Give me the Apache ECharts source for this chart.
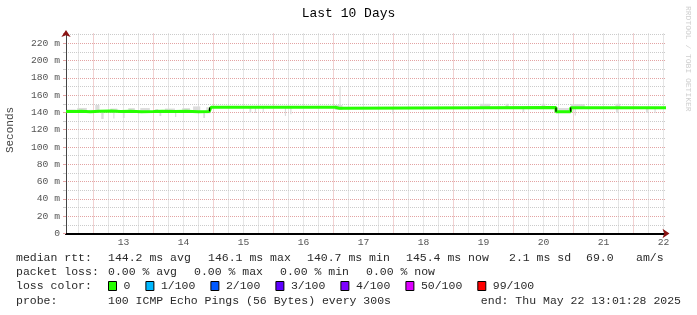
<!DOCTYPE html>
<html><head><meta charset="utf-8">
<script src="https://cdn.jsdelivr.net/npm/echarts@6.0.0/dist/echarts.min.js"></script>
<style>html,body{margin:0;padding:0;background:#fff}#c{width:697px;height:315px}</style>
</head><body><div id="c"></div>
<script>
// ---- data (x = day of month, fractional; y = milliseconds) ----
const X_START = 12.5424;           // Mon May 12 13:01
const X_END = 22.5424;             // Thu May 22 13:01
const Y_MAX = 231.3;
const dayLabels = ['13','14','15','16','17','18','19','20','21','22'];
const yTickLabels = ['0','20 m','40 m','60 m','80 m','100 m','120 m','140 m','160 m','180 m','200 m','220 m'];

const medianTime = [12.5424,12.68,12.80,12.95,13.10,13.30,13.45,13.62,13.80,14.00,14.15,14.35,14.55,14.75,14.93,14.96,17.03,17.10,20.709,20.954,22.5424];
const medianRtt  = [141.0, 141.4,140.9,141.3,141.8,141.0,141.3,140.9,141.2,141.5,141.0,141.3,140.9,141.1,141.6,146.0,144.9,145.7,140.8, 145.4, 145.4];

const jumpTime = [14.935, 20.709, 20.954];
const jumpFrom = [141.3, 145.8, 140.8];
const jumpTo   = [145.6, 140.8, 145.6];

const smokeStart = [12.56,12.73,12.93,13.03,13.13,13.28,13.33,13.49,13.58,13.78,14.03,14.10,14.19,14.36,14.48,14.66,14.83,14.88,15.60,15.69,15.82,16.19,16.28,17.02,17.10,17.98,19.44,19.87,20.15,20.47,20.71,20.96,21.02,21.70,21.71,22.21,22.35];
const smokeEnd   = [12.70,12.89,12.99,13.10,13.17,13.40,13.35,13.52,13.69,13.94,14.08,14.13,14.36,14.38,14.61,14.78,14.86,14.95,15.63,15.71,15.84,16.21,16.30,17.15,17.12,18.00,19.61,19.92,20.18,20.53,20.95,21.19,21.04,21.78,21.74,22.24,22.37];
const smokeLow   = [139.5,139.8,140.0,139.5,132.4,139.8,133.0,133.6,139.6,139.8,140.0,135.9,139.7,134.7,139.8,139.5,133.6,139.0,139.4,139.4,140.6,135.9,138.0,142.9,148.0,138.2,144.5,144.5,140.6,144.5,140.0,144.5,136.4,144.5,139.4,139.4,139.4];
const smokeHigh  = [143.5,145.2,143.0,148.6,141.0,144.5,141.0,141.0,145.0,145.1,144.0,141.0,144.5,141.0,145.0,147.0,141.0,146.0,145.5,145.5,145.5,145.5,145.5,148.6,169.5,145.5,150.0,150.0,145.6,150.0,145.1,149.8,145.5,150.0,145.5,145.5,145.5];

const rttLabel = 'median rtt:';
const rttStats = ['144.2 ms avg','146.1 ms max','140.7 ms min','145.4 ms now','2.1 ms sd','69.0','am/s'];
const lossLabel = 'packet loss:';
const lossStats = ['0.00 % avg','0.00 % max','0.00 % min','0.00 % now'];
const colorLabel = 'loss color:';
const lossNames = ['0','1/100','2/100','3/100','4/100','50/100','99/100'];
const lossColors = ['#26ff00','#00b8ff','#0059ff','#5e00ff','#7e00ff','#dd00ff','#ff0000'];
const probeLabel = 'probe:';
const probeText = '100 ICMP Echo Pings (56 Bytes) every 300s';
const endText = 'end: Thu May 22 13:01:28 2025';
const titleText = 'Last 10 Days';
const yName = 'Seconds';
const watermark = 'RRDTOOL / TOBI OETIKER';

// ---- layout (style only) ----
const mono = '"Liberation Mono", "DejaVu Sans Mono", monospace';
const legendFont = '11.5px ' + mono;
const charW = 6.9;
const rowY = [258, 272, 286, 300.5];
const rttX = [108, 208, 307, 406, 509, 586, 636];
const lossX = [108, 194, 280, 366];

const medianData = medianTime.map((t, i) => [t, medianRtt[i]]);
const jumpData = [];
jumpTime.forEach((t, i) => { jumpData.push([t, jumpFrom[i]], [t, jumpTo[i]], [t, null]); });
const smokeData = smokeStart.map((s, i) => [s, smokeEnd[i], smokeLow[i], smokeHigh[i]]);

const graphics = [];
function txt(text, x, y, opts) {
  graphics.push(Object.assign({ type: 'text', silent: true, x: x, y: y,
    style: Object.assign({ text: text, font: legendFont, fill: '#2a2a2a', textAlign: 'left', textVerticalAlign: 'middle', align: 'left', verticalAlign: 'middle' }, opts && opts.style || {}) },
    opts && opts.el || {}));
}
txt(titleText, 348.5, 14, { style: { font: '13px ' + mono, fill: '#000', textAlign: 'center', align: 'center' } });
txt(yName, 10, 130, { style: { font: '11px ' + mono, fill: '#444', textAlign: 'center', align: 'center' }, el: { rotation: Math.PI / 2 } });
txt(watermark, 688, 6, { style: { font: '8px ' + mono, fill: '#cfcfcf' }, el: { rotation: -Math.PI / 2 } });
txt(rttLabel, 16, rowY[0]);
rttStats.forEach((s, i) => txt(s, rttX[i], rowY[0]));
txt(lossLabel, 16, rowY[1]);
lossStats.forEach((s, i) => txt(s, lossX[i], rowY[1]));
txt(colorLabel, 16, rowY[2]);
let bx = 108;
lossNames.forEach((n, i) => {
  graphics.push({ type: 'rect', silent: true, shape: { x: bx + 0.5, y: rowY[2] - 4.5, width: 8, height: 9 },
    style: { fill: lossColors[i], stroke: '#000', lineWidth: 1 } });
  txt(n, bx + 15.5, rowY[2]);
  bx = bx + 15.5 + n.length * charW + 15;
});
txt(probeLabel, 16, rowY[3]);
txt(probeText, 108, rowY[3]);
txt(endText, 681, rowY[3], { style: { textAlign: 'right', align: 'right' } });

const minorGrid = { color: '#cbcbcb', type: [1, 1], width: 1 };
const majorGrid = { color: '#e3a3a3', type: [1, 1], width: 1 };
const arrowColor = '#8b1414';

const chart = echarts.init(document.getElementById('c'), null, { renderer: 'canvas' });
chart.setOption({
  animation: false,
  backgroundColor: '#ffffff',
  grid: { left: 66, right: 31, top: 33.5, bottom: 81.5, containLabel: false, outerBoundsMode: 'none' },
  xAxis: [
    { // arrow only
      type: 'value', min: 0, max: 1, position: 'bottom',
      axisLine: { show: true, onZero: false, symbol: ['none', 'arrow'], symbolSize: [7, 7], symbolOffset: [0, 3.5], lineStyle: { color: arrowColor, width: 2 } },
      axisTick: { show: false }, axisLabel: { show: false }, splitLine: { show: false }
    },
    { // data axis, grid at midnight + every 6 h
      type: 'value', min: X_START, max: X_END, minInterval: 1, maxInterval: 1, position: 'bottom',
      axisLine: { show: true, onZero: false, lineStyle: { color: '#000', width: 2 } },
      axisTick: { show: false }, minorTick: { show: false, splitNumber: 4 },
      axisLabel: { show: false },
      splitLine: { show: true, showMinLine: false, showMaxLine: false, lineStyle: majorGrid },
      minorSplitLine: { show: true, lineStyle: minorGrid }
    },
    { // day labels at noon
      type: 'value', min: X_START - 0.5, max: X_END - 0.5, minInterval: 1, maxInterval: 1, position: 'bottom',
      axisLine: { show: false }, axisTick: { show: false }, splitLine: { show: false },
      axisLabel: { show: true, margin: 4, showMinLabel: false, showMaxLabel: false, color: '#555', fontFamily: mono, fontSize: 9.7,
        formatter: v => { const i = Math.round(v) - 13; return (Math.abs(v - Math.round(v)) < 1e-6 && i >= 0 && i < dayLabels.length) ? dayLabels[i] : ''; } }
    }
  ],
  yAxis: [
    { // arrow only
      type: 'value', min: 0, max: 1, position: 'left',
      axisLine: { show: true, onZero: false, symbol: ['none', 'arrow'], symbolSize: [7, 7], symbolOffset: [0, 3.5], lineStyle: { color: arrowColor, width: 1 } },
      axisTick: { show: false }, axisLabel: { show: false }, splitLine: { show: false }
    },
    {
      type: 'value', min: 0, max: Y_MAX, minInterval: 20, maxInterval: 20, position: 'left',
      axisLine: { show: true, onZero: false, lineStyle: { color: '#444', width: 1 } },
      axisTick: { show: true, length: 3, lineStyle: { color: '#e3a3a3' } },
      minorTick: { show: true, splitNumber: 2, length: 3, lineStyle: { color: '#cbcbcb' } },
      axisLabel: { show: true, margin: 6, showMaxLabel: false, color: '#555', fontFamily: mono, fontSize: 9.7,
        formatter: v => { const i = Math.round(v / 20); return (Math.abs(v - i * 20) < 1e-6 && i < yTickLabels.length) ? yTickLabels[i] : ''; } },
      splitLine: { show: true, showMinLine: false, showMaxLine: false, lineStyle: majorGrid },
      minorSplitLine: { show: true, lineStyle: minorGrid }
    }
  ],
  series: [
    {
      type: 'custom', xAxisIndex: 1, yAxisIndex: 1, silent: true,
      encode: { x: [0, 1], y: [2, 3] },
      data: smokeData,
      renderItem: (params, api) => {
        const p0 = api.coord([api.value(0), api.value(3)]);
        const p1 = api.coord([api.value(1), api.value(2)]);
        return { type: 'rect', shape: { x: p0[0], y: p0[1], width: Math.max(p1[0] - p0[0], 1), height: p1[1] - p0[1] },
          style: { fill: '#dcdcdc' } };
      }
    },
    {
      type: 'line', xAxisIndex: 1, yAxisIndex: 1, step: 'end', showSymbol: false, silent: true,
      data: medianData, lineStyle: { color: '#26ff00', width: 3 }
    },
    {
      type: 'line', xAxisIndex: 1, yAxisIndex: 1, showSymbol: false, silent: true, connectNulls: false,
      data: jumpData, lineStyle: { color: '#000', width: 1.2 }
    }
  ],
  graphic: { elements: graphics }
});
</script></body></html>
